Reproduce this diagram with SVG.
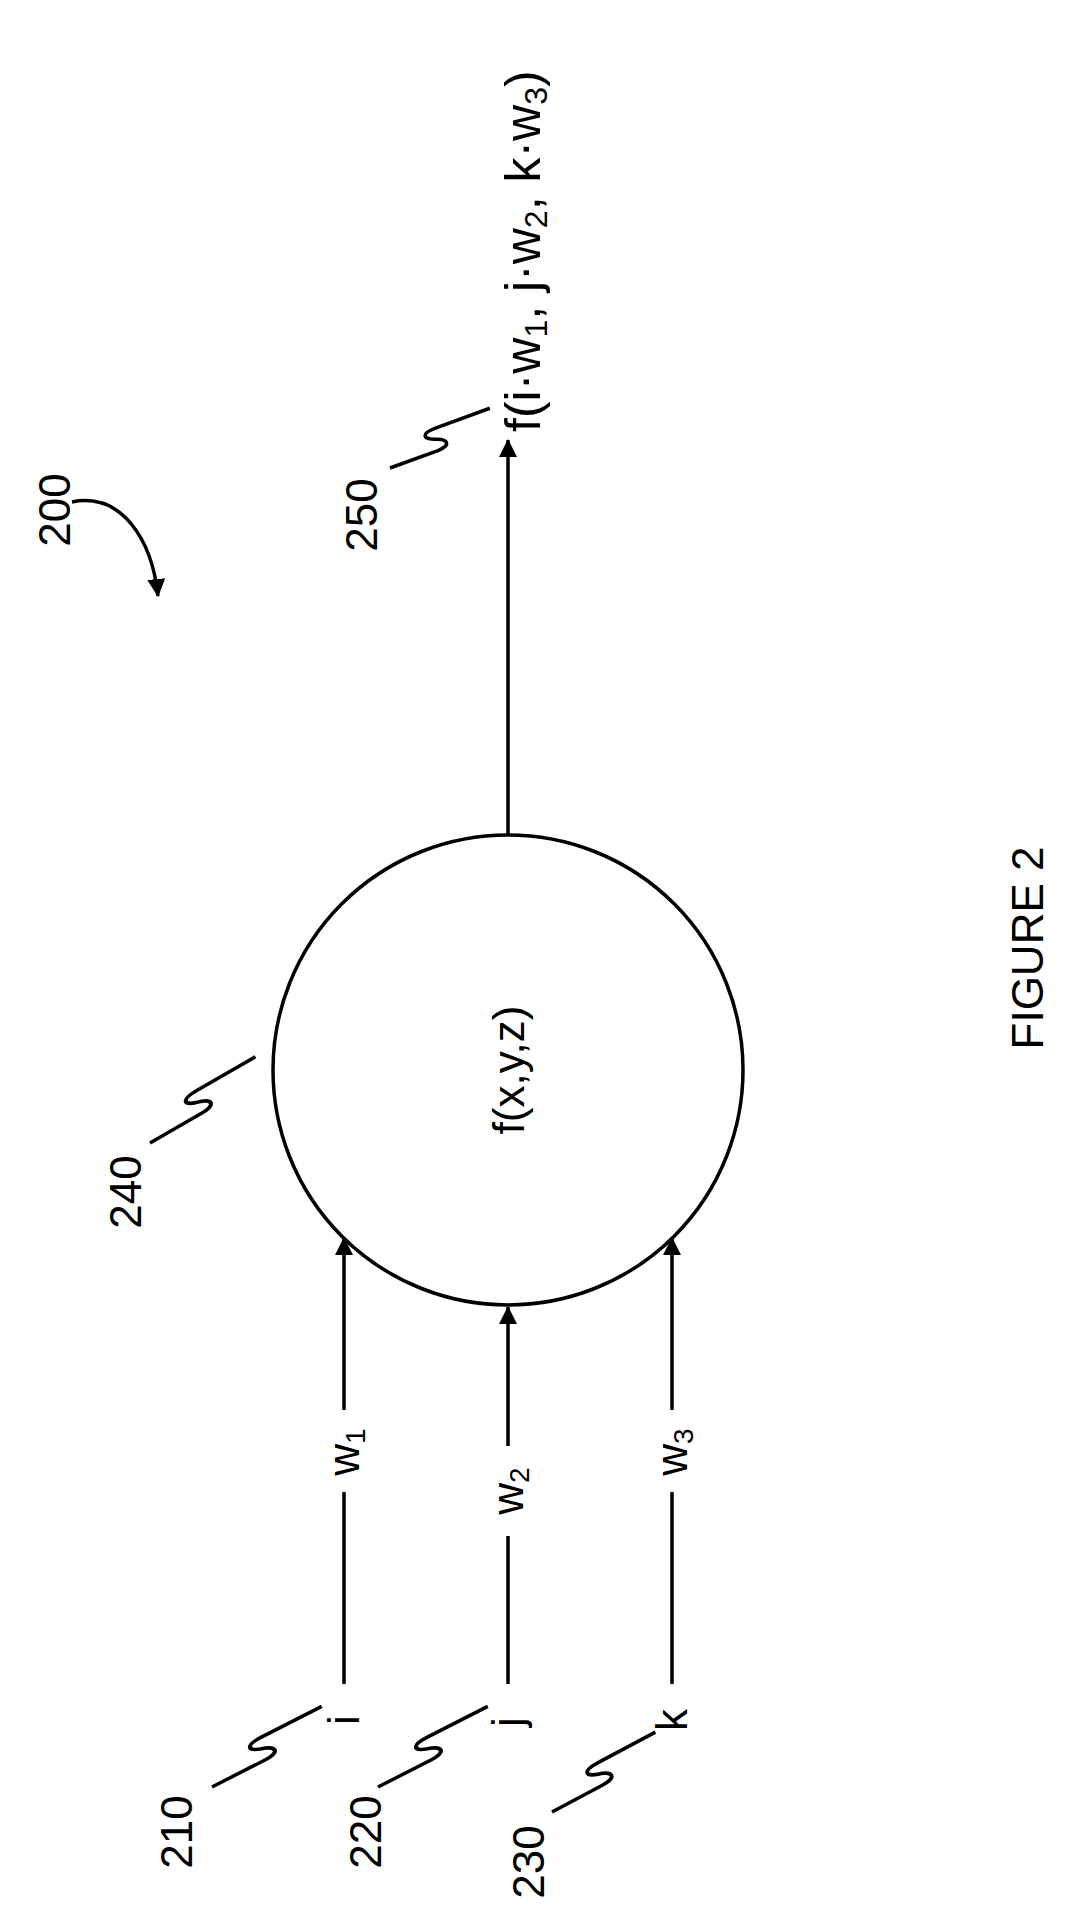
<svg xmlns="http://www.w3.org/2000/svg" width="1076" height="1921" viewBox="0 0 1076 1921">
<style>
text{font-family:"Liberation Sans",Arial,sans-serif;fill:#000;font-size:44px}
.ln{stroke:#000;stroke-width:3.5;fill:none;stroke-linejoin:round}
.sub{font-size:28px}
.big{font-size:50px}
.bsub{font-size:32px}
</style>
<defs>
<marker id="ah" markerWidth="18" markerHeight="18" refX="17" refY="9" orient="auto" markerUnits="userSpaceOnUse" viewBox="0 0 18 18"><path d="M0,0 L18,9 L0,18 z" fill="#000"/></marker>
<path id="sq" d="M0,0 L50,0 C64,0 64,-8 50,-12 C40,-16 40,-22 56,-22 L112,-22" class="ln"/>
</defs>
<rect width="1076" height="1921" fill="#fff"/>
<g id="node240">
<circle cx="508" cy="1070" r="235" class="ln"/>
<text transform="translate(524,1070) rotate(-90)" text-anchor="middle">f(x,y,z)</text>
</g>
<g id="connectors">
<path class="ln" d="M344,1684 V1492 M344,1410 V1238" marker-end="url(#ah)"/>
<path class="ln" d="M508,1684 V1536 M508,1446 V1307" marker-end="url(#ah)"/>
<path class="ln" d="M672,1684 V1492 M672,1410 V1238" marker-end="url(#ah)"/>
<path class="ln" d="M508,835 V440" marker-end="url(#ah)"/>
</g>
<g id="weights">
<text transform="translate(359,1452) rotate(-90)" text-anchor="middle">w<tspan class="sub" dy="6">1</tspan></text>
<text transform="translate(523,1491) rotate(-90)" text-anchor="middle">w<tspan class="sub" dy="6">2</tspan></text>
<text transform="translate(687,1452) rotate(-90)" text-anchor="middle">w<tspan class="sub" dy="6">3</tspan></text>
</g>
<g id="node210">
<text transform="translate(359,1720) rotate(-90)" text-anchor="middle">i</text>
<text transform="translate(192,1832) rotate(-90)" text-anchor="middle">210</text>
<use href="#sq" transform="translate(212,1787) rotate(-27) scale(1.2,1)"/>
</g>
<g id="node220">
<text transform="translate(381,1832) rotate(-90)" text-anchor="middle">220</text>
<text transform="translate(523,1722) rotate(-90)" text-anchor="middle">j</text>
<use href="#sq" transform="translate(378,1787) rotate(-27) scale(1.2,1)"/>
</g>
<g id="node230">
<text transform="translate(687,1720) rotate(-90)" text-anchor="middle">k</text>
<text transform="translate(544,1862) rotate(-90)" text-anchor="middle">230</text>
<use href="#sq" transform="translate(552,1812) rotate(-28) scale(1.15,1)"/>
</g>
<g id="label240">
<text transform="translate(141,1192) rotate(-90)" text-anchor="middle">240</text>
<use href="#sq" transform="translate(150,1143) rotate(-30) scale(1.2,1)"/>
</g>
<g id="node250">
<text transform="translate(377,515) rotate(-90)" text-anchor="middle">250</text>
<use href="#sq" transform="translate(390,468) rotate(-20) scale(1.02,1)"/>
<text class="big" transform="translate(540,432) rotate(-90)">f(i·w<tspan class="bsub" dy="7">1</tspan><tspan dy="-7">, j·w</tspan><tspan class="bsub" dy="7">2</tspan><tspan dy="-7">, k·w</tspan><tspan class="bsub" dy="7">3</tspan><tspan dy="-7">)</tspan></text>
</g>
<g id="label200">
<text transform="translate(70,510) rotate(-90)" text-anchor="middle">200</text>
<path class="ln" d="M72,502 C122,492 152,540 158,596" marker-end="url(#ah)"/>
</g>
<text id="fig" transform="translate(1043,948) rotate(-90)" text-anchor="middle">FIGURE 2</text>
</svg>
